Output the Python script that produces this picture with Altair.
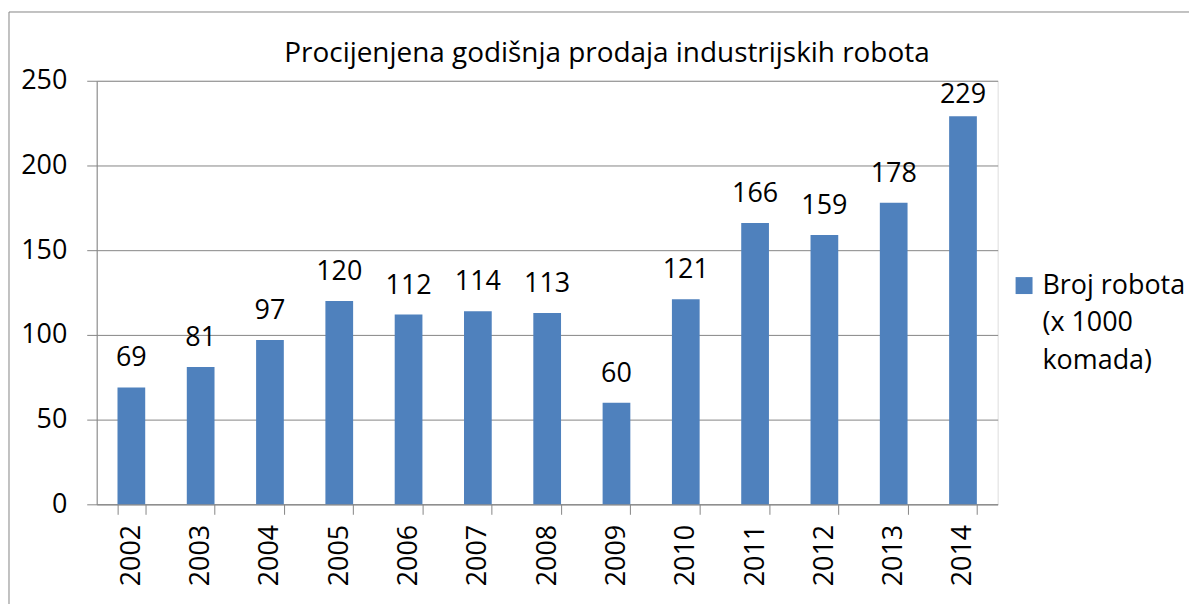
import altair as alt
import pandas as pd

years = ["2002", "2003", "2004", "2005", "2006", "2007", "2008",
         "2009", "2010", "2011", "2012", "2013", "2014"]
values = [69, 81, 97, 120, 112, 114, 113, 60, 121, 166, 159, 178, 229]
series_name = "Broj robota (x 1000 komada)"
legend_lines = ["Broj robota", "(x 1000", "komada)"]
title_text = "Procijenjena godišnja prodaja industrijskih robota"
y_ticks = [0, 50, 100, 150, 200, 250]

FONT = "Open Sans"
GRAY = "#868686"
BLUE = "#4F81BD"

df = pd.DataFrame({"year": years, "value": values, "series": series_name})

label_expr = "[" + ", ".join("'" + s + "'" for s in legend_lines) + "]"

base = alt.Chart(df)

x_enc = alt.X("year:N", sort=years, title=None,
              scale=alt.Scale(paddingInner=0.6, paddingOuter=0.3),
              axis=alt.Axis(labelAngle=-90, labelFont=FONT, labelFontSize=27,
                            labelColor="black", labelPadding=10,
                            tickBand="extent", tickSize=10, tickColor=GRAY,
                            domainColor=GRAY, grid=False))

bars = base.mark_bar(color=BLUE).encode(
    x=x_enc,
    y=alt.Y("value:Q", title=None,
            scale=alt.Scale(domain=[0, 250], nice=False),
            axis=alt.Axis(values=y_ticks, labelFont=FONT, labelFontSize=27,
                          labelColor="black", labelPadding=20,
                          tickSize=10, tickColor=GRAY, domainColor=GRAY,
                          grid=True, gridColor=GRAY)),
    color=alt.Color("series:N", title=None,
                    scale=alt.Scale(domain=[series_name], range=[BLUE]),
                    legend=alt.Legend(orient="none", legendX=917, legendY=192,
                                      padding=0, labelExpr=label_expr,
                                      labelFont=FONT, labelFontSize=27,
                                      labelColor="black", labelOffset=5,
                                      labelLimit=400,
                                      symbolSize=289, symbolType="square",
                                      symbolStrokeWidth=0)),
)

labels = base.transform_calculate(
    label_y="min(datum.value + 12.4, 237)"
).mark_text(font=FONT, fontSize=27, color="black", baseline="alphabetic").encode(
    x=alt.X("year:N", sort=years),
    y=alt.Y("label_y:Q"),
    text=alt.Text("value:Q"),
)

border = alt.Chart(pd.DataFrame({"k": [0]})).mark_rect(
    fillOpacity=0, stroke=GRAY, strokeWidth=1
).encode(x=alt.value(-88), x2=alt.value(1300), y=alt.value(-69), y2=alt.value(800))

chart = alt.layer(border, bars, labels).properties(
    width=904, height=425,
    title=alt.TitleParams(title_text, font=FONT, fontSize=28, fontWeight="normal",
                          color="black", anchor="middle", dx=60, dy=83,
                          baseline="alphabetic", offset=4),
    padding={"left": 89, "top": 72, "right": 192, "bottom": 99},
    autosize=alt.AutoSizeParams(type="none"),
).configure_view(strokeWidth=0).configure(
    style={"guide-label": {"lineHeight": 38}}
)

chart.save("out.html", embed_options={"renderer": "svg", "actions": False})
